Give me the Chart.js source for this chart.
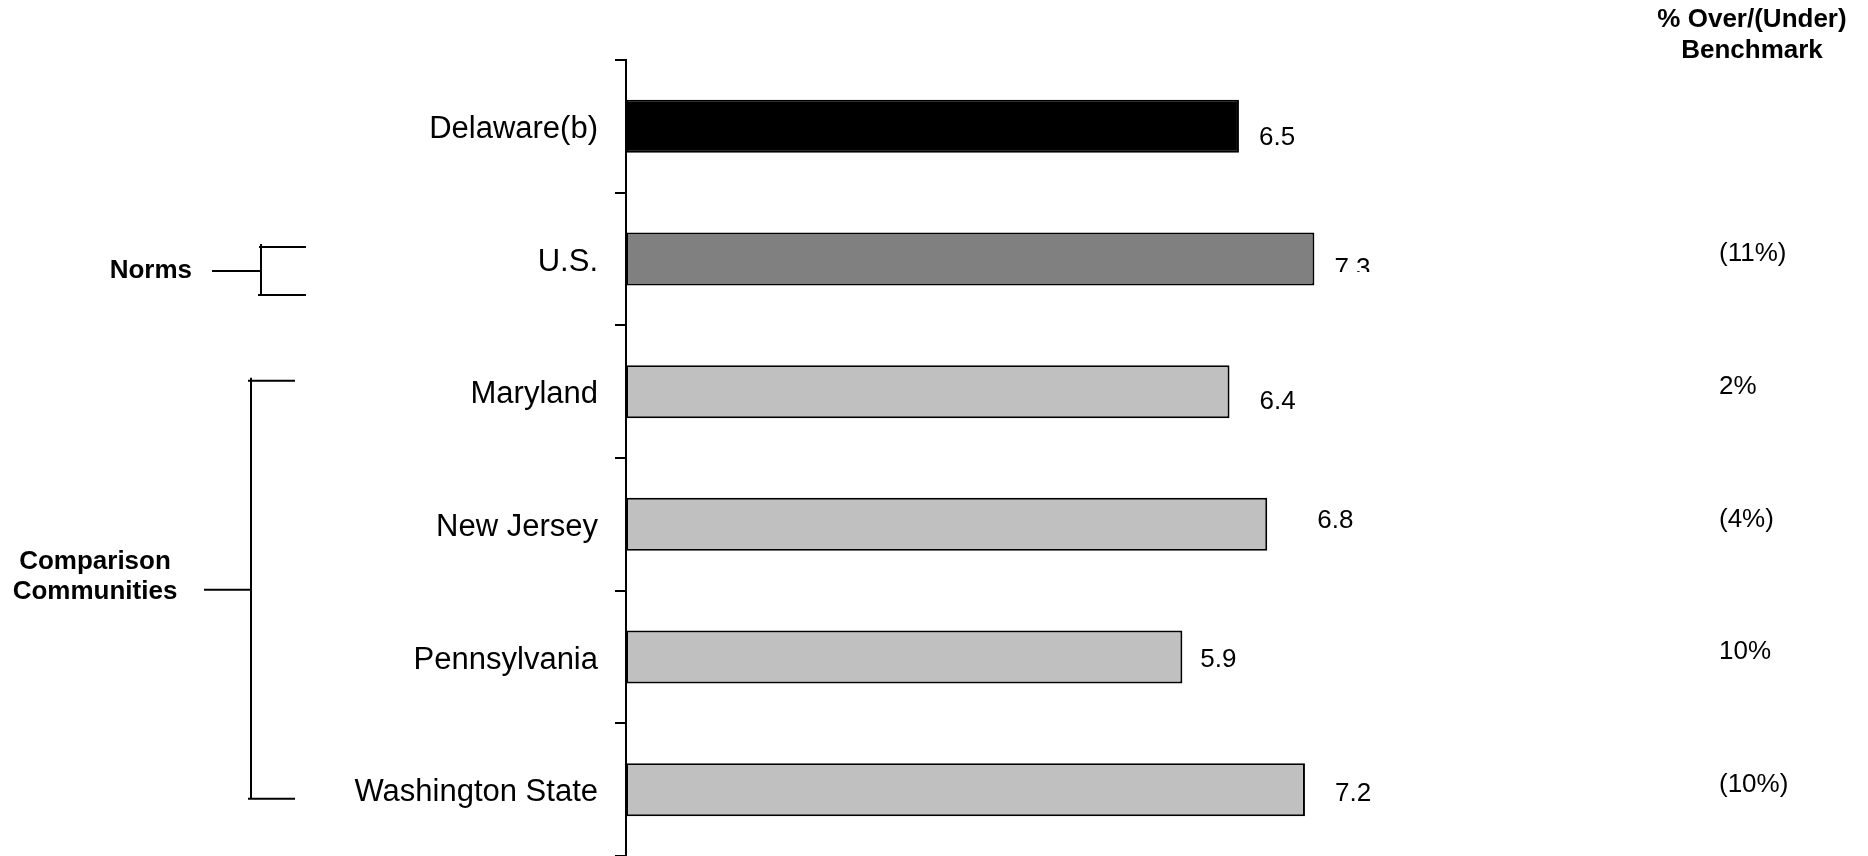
<!DOCTYPE html>
<html>
<head>
<meta charset="utf-8">
<script src="https://cdn.jsdelivr.net/npm/chart.js@4/dist/chart.umd.min.js"></script>
<style>
  html, body { margin: 0; padding: 0; background: #fff; }
  #wrap { width: 1868px; height: 856px; position: relative; }
</style>
</head>
<body>
<div id="wrap"><canvas id="mycanvas"></canvas></div>
<script>
var categories = ['Delaware(b)', 'U.S.', 'Maryland', 'New Jersey', 'Pennsylvania', 'Washington State'];
var scores = [6.5, 7.3, 6.4, 6.8, 5.9, 7.2];
var overUnder = ['', '(11%)', '2%', '(4%)', '10%', '(10%)'];
var barColors = ['#000000', '#808080', '#c0c0c0', '#c0c0c0', '#c0c0c0', '#c0c0c0'];

// label placement tweaks (px) to follow the original slide
var valueGap = [20, 20, 30, 50, 18, 30];
var valueDy = [11, 10, 10, -4, 3, 4];
var valueClip = { 1: 13 };

var FONT = '"Liberation Sans", Arial, sans-serif';

var extras = {
	id: 'extras',
	afterDraw: function(chart) {
		var ctx = chart.ctx;
		var area = chart.chartArea;
		var y = chart.scales.y;
		var bars = chart.getDatasetMeta(0).data;

		ctx.save();
		ctx.fillStyle = '#000';
		ctx.textBaseline = 'middle';

		// value labels
		ctx.font = '26px ' + FONT;
		ctx.textAlign = 'left';
		for (var i = 0; i < bars.length; i++) {
			var b = bars[i];
			ctx.save();
			if (valueClip[i] !== undefined) {
				ctx.beginPath();
				ctx.rect(b.x, b.y - 60, 200, 60 + valueClip[i]);
				ctx.clip();
			}
			ctx.fillText(String(scores[i]), b.x + valueGap[i], b.y + valueDy[i]);
			ctx.restore();
		}

		// % over/(under) column
		var colX = area.right + 150;
		for (var j = 0; j < overUnder.length; j++) {
			if (!overUnder[j]) continue;
			ctx.fillText(overUnder[j], colX, y.getPixelForValue(j) - 5);
		}

		ctx.font = 'bold 26px ' + FONT;
		ctx.textAlign = 'center';
		ctx.fillText('% Over/(Under)', area.right + 183, 20);
		ctx.fillText('Benchmark', area.right + 183, 51);

		// brackets
		ctx.strokeStyle = '#000';
		ctx.lineWidth = 2;
		var us = y.getPixelForValue(1);
		var nTop = us - 12, nBot = us + 36, nMid = (nTop + nBot) / 2;
		ctx.beginPath();
		ctx.moveTo(261, nTop - 3); ctx.lineTo(261, nBot);
		ctx.moveTo(259, nTop); ctx.lineTo(306, nTop);
		ctx.moveTo(258, nBot); ctx.lineTo(306, nBot);
		ctx.moveTo(212, nMid); ctx.lineTo(261, nMid);
		ctx.stroke();

		var cTop = y.getPixelForValue(2) - 11;
		var cBot = y.getPixelForValue(5) + 9;
		var cMid = (cTop + cBot) / 2;
		ctx.beginPath();
		ctx.moveTo(251, cTop - 3); ctx.lineTo(251, cBot);
		ctx.moveTo(248, cTop); ctx.lineTo(295, cTop);
		ctx.moveTo(248, cBot); ctx.lineTo(295, cBot);
		ctx.moveTo(204, cMid); ctx.lineTo(251, cMid);
		ctx.stroke();

		ctx.textAlign = 'right';
		ctx.fillText('Norms', 192, nMid);
		ctx.textAlign = 'center';
		ctx.fillText('Comparison', 95, cMid - 28);
		ctx.fillText('Communities', 95, cMid + 2);

		ctx.restore();
	}
};

var ctx = document.getElementById('mycanvas');

var barChart = new Chart(ctx, {
	type: 'bar',
	data: {
		labels: categories,
		datasets: [
			{
				label: 'Score',
				data: scores,
				backgroundColor: barColors,
				borderColor: '#000',
				borderWidth: 2,
				borderSkipped: false,
				barPercentage: 0.4,
				categoryPercentage: 1
			}
		]
	},
	options: {
		indexAxis: 'y',
		responsive: true,
		maintainAspectRatio: false,
		animation: false,
		events: [],
		layout: { padding: { top: 60, right: 299, bottom: 0, left: 0 } },
		plugins: {
			legend: { display: false },
			tooltip: { enabled: false },
			title: { display: false }
		},
		scales: {
			x: {
				display: false,
				min: 0,
				max: 10
			},
			y: {
				offset: true,
				afterFit: function(scale) {
					scale.width = 626;
					scale.paddingTop = 0;
					scale.paddingBottom = 0;
				},
				grid: {
					offset: true,
					drawOnChartArea: false,
					drawTicks: true,
					tickLength: 11,
					color: '#000',
					lineWidth: 2
				},
				border: { display: true, color: '#000', width: 2 },
				ticks: {
					color: '#000',
					padding: 17,
					labelOffset: 3,
					font: { family: FONT, size: 31 }
				}
			}
		}
	},
	plugins: [extras]
});
</script>
</body>
</html>
